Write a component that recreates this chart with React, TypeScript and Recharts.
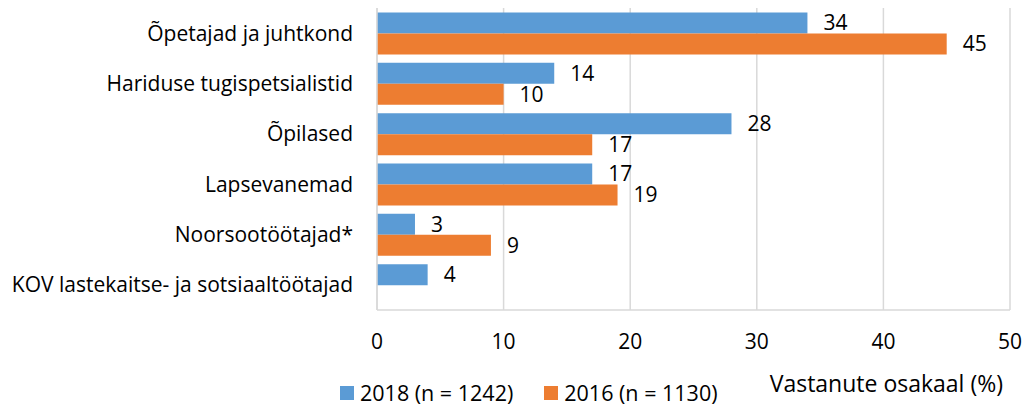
import React from "react";
import { BarChart, Bar, XAxis, YAxis, CartesianGrid, LabelList, Legend, Label } from "recharts";

const categories = [
  "Õpetajad ja juhtkond",
  "Hariduse tugispetsialistid",
  "Õpilased",
  "Lapsevanemad",
  "Noorsootöötajad*",
  "KOV lastekaitse- ja sotsiaaltöötajad",
];
const values2018 = [34, 14, 28, 17, 3, 4];
const values2016: (number | null)[] = [45, 10, 17, 19, 9, null];
const xTicks = [0, 10, 20, 30, 40, 50];
const seriesNames = ["2018 (n = 1242)", "2016 (n = 1130)"];
const axisTitle = "Vastanute osakaal (%)";

const BLUE = "#5B9BD5";
const ORANGE = "#ED7D31";
const GRID = "#D9D9D9";
const FONT = "'Open Sans', Lato, sans-serif";
const FS = 21;

const data = categories.map((c, i) => ({ name: c, v2018: values2018[i], v2016: values2016[i] }));

const LegendContent = () => (
  <div style={{ display: "flex", alignItems: "center", fontFamily: FONT, fontSize: 21.5, color: "#000", lineHeight: "24px" }}>
    {[BLUE, ORANGE].map((col, i) => (
      <div key={i} style={{ display: "flex", alignItems: "center", marginRight: i === 0 ? 31 : 0 }}>
        <div style={{ width: 14, height: 14, background: col, marginRight: 6 }} />
        <span>{seriesNames[i]}</span>
      </div>
    ))}
  </div>
);

export default function App() {
  return (
    <div style={{ position: "absolute", left: 0, top: 0, width: 1026, height: 405, background: "#fff" }}>
      <BarChart
        width={1026}
        height={405}
        data={data}
        layout="vertical"
        margin={{ top: 8, right: 16, left: 0, bottom: 11 }}
        barCategoryGap="9%"
        barGap={0}
      >
        <CartesianGrid horizontal={false} vertical stroke={GRID} strokeWidth={1.5} />
        <XAxis
          type="number"
          domain={[0, 50]}
          ticks={xTicks}
          interval={0}
          height={60}
          axisLine={{ stroke: GRID, strokeWidth: 1.5 }}
          tickLine={false}
          tickSize={0}
          tickMargin={24}
          tick={{ fill: "#000", fontSize: FS, fontFamily: FONT }}
        >
          <Label
            content={() => (
              <text x={1003} y={392} textAnchor="end" fill="#000" fontSize={23} fontFamily={FONT}>
                {axisTitle}
              </text>
            )}
          />
        </XAxis>
        <YAxis
          type="category"
          dataKey="name"
          width={377}
          axisLine={{ stroke: GRID, strokeWidth: 1.5 }}
          tickLine={false}
          tickSize={0}
          tickMargin={24}
          interval={0}
          tick={{ fill: "#000", fontSize: FS, fontFamily: FONT }}
        />
        <Legend
          content={<LegendContent />}
          wrapperStyle={{ position: "absolute", left: 340, top: 381, width: "auto", height: 24 }}
        />
        <Bar dataKey="v2018" name={seriesNames[0]} fill={BLUE} isAnimationActive={false}>
          <LabelList dataKey="v2018" position="right" offset={16} fill="#000" fontSize={FS} fontFamily={FONT} />
        </Bar>
        <Bar dataKey="v2016" name={seriesNames[1]} fill={ORANGE} isAnimationActive={false}>
          <LabelList dataKey="v2016" position="right" offset={16} fill="#000" fontSize={FS} fontFamily={FONT} />
        </Bar>
      </BarChart>
    </div>
  );
}
